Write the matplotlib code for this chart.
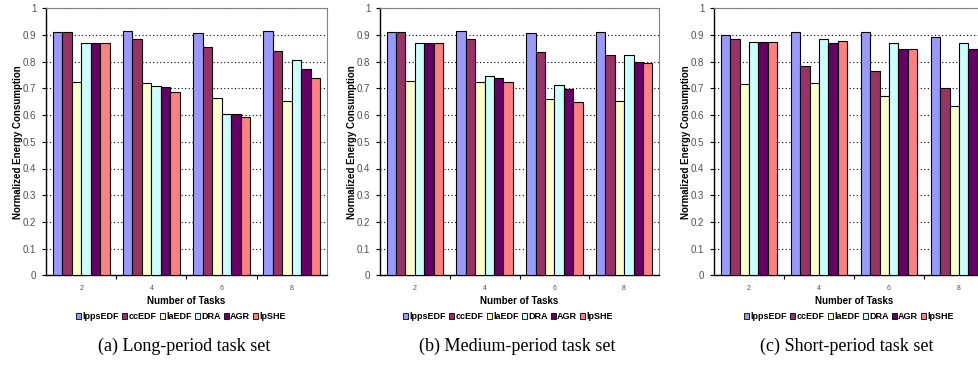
import numpy as np
import matplotlib
matplotlib.use("Agg")
import matplotlib.pyplot as plt
from matplotlib.patches import Patch

plt.rcParams["font.family"] = ["Liberation Sans", "DejaVu Sans"]

W, H = 979, 366

tasks = ["2", "4", "6", "8"]
methods = ["lppsEDF", "ccEDF", "laEDF", "DRA", "AGR", "lpSHE"]
colors = ["#9999FF", "#993366", "#FFFFCC", "#CCFFFF", "#660066", "#FF8080"]

# one row per method, columns = number of tasks (2, 4, 6, 8)
long_period = [
    [0.910, 0.915, 0.909, 0.914],
    [0.910, 0.884, 0.855, 0.840],
    [0.725, 0.722, 0.664, 0.653],
    [0.870, 0.708, 0.605, 0.807],
    [0.870, 0.704, 0.603, 0.773],
    [0.870, 0.687, 0.592, 0.738],
]
medium_period = [
    [0.911, 0.916, 0.908, 0.911],
    [0.911, 0.885, 0.838, 0.825],
    [0.727, 0.724, 0.660, 0.652],
    [0.871, 0.746, 0.712, 0.825],
    [0.871, 0.740, 0.698, 0.800],
    [0.871, 0.724, 0.648, 0.797],
]
short_period = [
    [0.900, 0.913, 0.910, 0.893],
    [0.885, 0.785, 0.766, 0.700],
    [0.716, 0.719, 0.672, 0.633],
    [0.873, 0.884, 0.869, 0.869],
    [0.873, 0.870, 0.849, 0.847],
    [0.873, 0.877, 0.848, 0.861],
]
captions = ["(a) Long-period task set", "(b) Medium-period task set",
            "(c) Short-period task set"]

# panel geometry in pixels: left, right (top/bottom shared)
panels = [(46, 327), (380, 659), (714, 994)]
TOP, BOT = 8.3, 275.3
caption_x = [184, 517, 847]
legend_x = [181, 508, 849]

fig = plt.figure(figsize=(W / 100, H / 100), dpi=100)

bw = 0.135
for (l, r), data, cap, cx, lx in zip(panels, [long_period, medium_period, short_period],
                                     captions, caption_x, legend_x):
    ax = fig.add_axes([l / W, 1 - BOT / H, (r - l) / W, (BOT - TOP) / H])
    x = np.arange(len(tasks))
    for i, (m, c) in enumerate(zip(methods, colors)):
        ax.bar(x + (i - 2.5) * bw, data[i], bw, color=c, edgecolor="black",
               linewidth=0.8, zorder=3)

    ax.set_xlim(-0.5, len(tasks) - 0.5)
    ax.set_ylim(0, 1)
    ax.set_yticks(np.arange(0, 1.01, 0.1))
    ax.set_yticklabels(["0"] + [f"{v:.1f}" for v in np.arange(0.1, 0.95, 0.1)] + ["1"])
    ax.yaxis.grid(True, color="black", linestyle=(0, (1, 2.2)), linewidth=0.8, zorder=0)
    ax.tick_params(axis="y", labelsize=7, labelcolor="#505050", length=3, width=0.8,
                   direction="out", pad=4)

    # category labels at centers, tick marks on boundaries
    ax.set_xticks(x)
    ax.set_xticklabels(tasks)
    ax.tick_params(axis="x", which="major", length=0, labelsize=5, labelcolor="#505050",
                   pad=7)
    ax.set_xticks(np.arange(0.5, len(tasks) - 1, 1), minor=True)
    ax.tick_params(axis="x", which="minor", length=3, width=0.8, direction="out")

    for s in ["left", "bottom"]:
        ax.spines[s].set_color("black")
        ax.spines[s].set_linewidth(1.0)
    for s in ["top", "right"]:
        ax.spines[s].set_color("#808080")
        ax.spines[s].set_linewidth(0.8)

    ax.set_xlabel("Number of Tasks", fontsize=7, fontweight="bold", labelpad=3)
    ax.set_ylabel("Normalized Energy Consumption", fontsize=7, fontweight="bold",
                  labelpad=0)

    handles = [Patch(facecolor=c, edgecolor="black", linewidth=0.6, label=m)
               for m, c in zip(methods, colors)]
    fig.legend(handles=handles, loc="center", bbox_to_anchor=(lx / W, 1 - 316.7 / H),
               ncol=6, frameon=False, prop={"size": 6.5, "weight": "bold"},
               handlelength=0.55, handleheight=0.6, handletextpad=0.15,
               columnspacing=0.35, borderpad=0, borderaxespad=0)

    fig.text(cx / W, 1 - 346 / H, cap, ha="center", va="center", fontsize=13,
             family=["Liberation Serif", "DejaVu Serif"])

fig.savefig("out.png", dpi=100)
